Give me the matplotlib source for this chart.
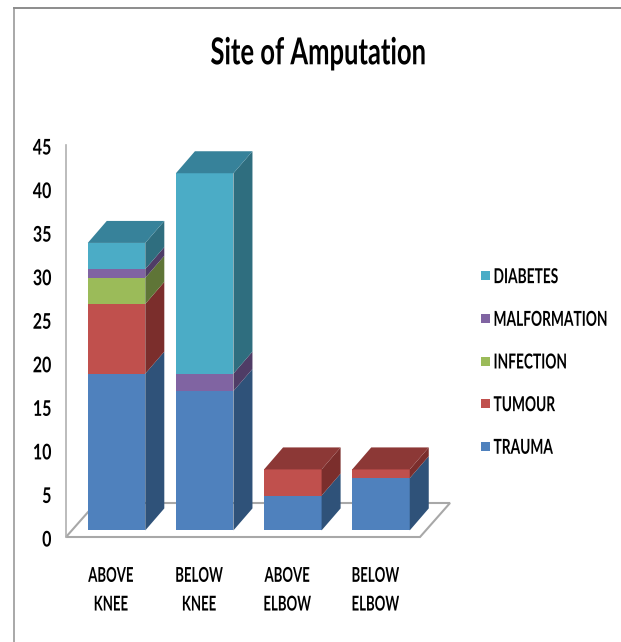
import numpy as np
import matplotlib
matplotlib.use("Agg")
import matplotlib.pyplot as plt
from matplotlib.patches import Patch
from matplotlib.lines import Line2D
from matplotlib.patheffects import AbstractPathEffect
from matplotlib.transforms import Affine2D

W, H = 621, 642
categories = ["ABOVE\nKNEE", "BELOW\nKNEE", "ABOVE\nELBOW", "BELOW\nELBOW"]
series = ["TRAUMA", "TUMOUR", "INFECTION", "MALFORMATION", "DIABETES"]
trauma = [18, 16, 4, 6]
tumour = [8, 0, 3, 1]
infection = [3, 0, 0, 0]
malformation = [1, 2, 0, 0]
diabetes = [3, 23, 0, 0]
yticks = [0, 5, 10, 15, 20, 25, 30, 35, 40, 45]

front = ["#4F81BD", "#C0504D", "#9BBB59", "#8064A2", "#4BACC6"]
side = ["#2F5279", "#7B2E2C", "#5F7537", "#4F3C66", "#2F6E7F"]
top = ["#38608F", "#8C3836", "#6F883F", "#5B4775", "#37829A"]

plt.rcParams["font.family"] = ["Lato", "DejaVu Sans"]
plt.rcParams["font.weight"] = "bold"
fig = plt.figure(figsize=(W / 100, H / 100), dpi=100)


class Tall(AbstractPathEffect):
    """Stretch a text vertically about the middle of each line (the reference is a squeezed image)."""

    def __init__(self, sy, shift=0.0):
        super().__init__()
        self.sy = sy
        self.shift = shift

    def draw_path(self, renderer, gc, tpath, affine, rgbFace=None):
        ext = tpath.get_extents(affine)
        cy = 0.5 * (ext.y0 + ext.y1)
        tall = affine + Affine2D().translate(0, -cy).scale(1, self.sy).translate(0, cy + self.shift)
        renderer.draw_path(gc, tpath, tall, rgbFace)


def px_box(l, t, r, b):
    return [l / W, 1 - b / H, (r - l) / W, (b - t) / H]


# outer frame of the chart area
fig.add_artist(Line2D([13.5 / W, 13.5 / W], [0, 1 - 8 / H], color="#9A9A9A", lw=1.2))
fig.add_artist(Line2D([13.5 / W, 1], [1 - 8 / H, 1 - 8 / H], color="#8C8C8C", lw=1.4))

ax = fig.add_axes(px_box(66, 145, 420, 537))
ppx = 88.1   # pixels per category
ppy = 392 / 45  # pixels per unit
ax.set_xlim(-50.5 / ppx, 3 + 39 / ppx)
ax.set_ylim(0, 45)
ax.patch.set_alpha(0)
for s in ["top", "right", "bottom"]:
    ax.spines[s].set_visible(False)
ax.spines["left"].set_color("#B0B0B0")
ax.spines["left"].set_linewidth(1.2)

# floor
fdx, fdy = 30 / ppx, 34 / ppy
x0, x1 = ax.get_xlim()
ax.fill([x0, x1, x1 + fdx, x0 + fdx], [0, 0, fdy, fdy], facecolor="white",
        edgecolor="#A8A8A8", lw=1.5, clip_on=False, zorder=1)

# bars
lift = 6.6 / ppy
w = 57.5 / ppx
dx, dy = 19 / ppx, 22 / ppy
stack = np.array([trauma, tumour, infection, malformation, diabetes], dtype=float)
z = 2
for i in range(len(categories)):
    base = 0.0
    last = max(k for k in range(len(series)) if stack[k, i] > 0)
    for k in range(len(series)):
        h = stack[k, i]
        if h <= 0:
            continue
        b, t = base + lift, base + h + lift
        l, r = i - w / 2, i + w / 2
        ax.bar(i, h, width=w, bottom=b, color=front[k], zorder=z, clip_on=False, lw=0)
        ax.fill([r, r + dx, r + dx, r], [b, b + dy, t + dy, t], color=side[k], lw=0,
                zorder=z, clip_on=False)
        if k == last:
            ax.fill([l, r, r + dx, l + dx], [t, t, t + dy, t + dy], color=top[k], lw=0,
                    zorder=z, clip_on=False)
        base += h
    z += 1

# axis text
ax.set_yticks(yticks)
ax.tick_params(axis="y", length=0, pad=10.5, labelsize=11.5)
ax.set_xticks(np.arange(4) - 5.5 / ppx)
ax.set_xticklabels(categories, linespacing=2.67)
ax.tick_params(axis="x", length=0, pad=23.2, labelsize=9.5)
for t in ax.get_yticklabels():
    t.set_path_effects([Tall(1.35, shift=-2)])
for t in ax.get_xticklabels():
    t.set_path_effects([Tall(1.55)])

title = fig.text(318 / W, 1 - 53 / H, "Site of Amputation", ha="center", va="center",
                 fontsize=18.4, color="black")
title.set_path_effects([Tall(1.45)])

# legend
handles = [Patch(facecolor=c, edgecolor="none", label=s) for c, s in zip(front, series)][::-1]
leg = fig.legend(handles=handles, loc="center left", bbox_to_anchor=(481 / W, 1 - 362 / H),
                 frameon=False, fontsize=9.9, handlelength=0.66, handleheight=0.66,
                 handletextpad=0.25, labelspacing=2.23, borderpad=0, borderaxespad=0)
for t in leg.get_texts():
    t.set_path_effects([Tall(1.5)])

fig.savefig("out.png", dpi=100)
